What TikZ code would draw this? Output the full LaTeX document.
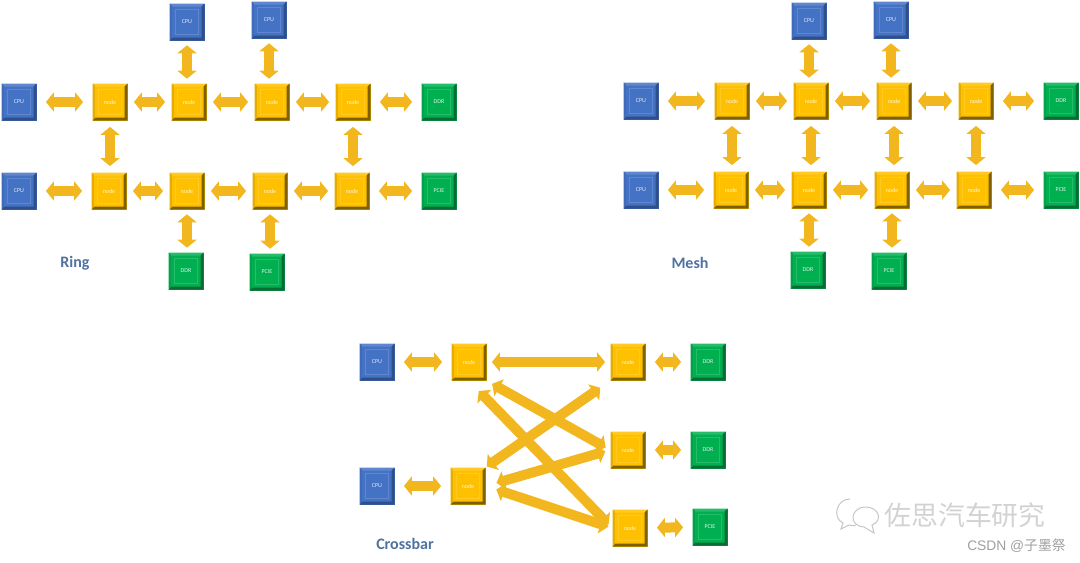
\documentclass[tikz,border=0pt]{standalone}
\usepackage{fontspec}
\setmainfont{Carlito}
\newfontfamily\cjkfont{Noto Sans CJK SC}
\newfontfamily\arialfont{Liberation Sans}
\usetikzlibrary{arrows.meta, calc}

\definecolor{cpublue}{HTML}{4472C4}
\definecolor{cpudark}{HTML}{2F4F88}
\definecolor{nodegold}{HTML}{FFC000}
\definecolor{nodedark}{HTML}{7F6000}
\definecolor{iogreen}{HTML}{00B050}
\definecolor{iodark}{HTML}{0B6B34}
\definecolor{linkgold}{HTML}{F2B71F}
\definecolor{titleblue}{HTML}{4F729F}

\tikzset{
    bevelbox/.style n args={2}{minimum width=17.5pt, minimum height=18.5pt, inner sep=0pt, fill=#1,
        font=\fontsize{3}{3}\selectfont, text=white!85!#1,
        path picture={
            \coordinate (ne) at (path picture bounding box.north east);
            \coordinate (sw) at (path picture bounding box.south west);
            \coordinate (nw) at (path picture bounding box.north west);
            \coordinate (se) at (path picture bounding box.south east);
            \fill[#1!85!white] (nw) -- (ne) -- ++(-1.5pt,-1.5pt) -- ($(nw)+(1.5pt,-1.5pt)$) -- cycle;
            \fill[#1!80!#2] (sw) -- (nw) -- ++(1.2pt,-1.2pt) -- ($(sw)+(1.2pt,1.2pt)$) -- cycle;
            \fill[#2] (sw) -- (se) -- (ne) -- ++(-1.5pt,-1.5pt) -- ($(se)+(-1.5pt,1.5pt)$) -- ($(sw)+(1.5pt,1.5pt)$) -- cycle;
            \draw[#1!85!white, line width=0.25pt] ($(sw)+(3pt,3pt)$) rectangle ($(ne)-(3pt,3pt)$);
        }},
    cpubox/.style={bevelbox={cpublue}{cpudark}},
    nodebox/.style={bevelbox={nodegold}{nodedark}},
    iobox/.style={bevelbox={iogreen}{iodark}},
    link/.style={draw=linkgold, line width=5pt, {Triangle[length=4pt, width=9.5pt]}-{Triangle[length=4pt, width=9.5pt]},
        shorten <=#1, shorten >=#1},
    link/.default=3pt,
    title/.style={font=\fontsize{8}{8}\selectfont\bfseries, text=titleblue}
}

\begin{document}
\begin{tikzpicture}[x=0.5pt, y=-0.5pt]
    \useasboundingbox (0,0) rectangle (1080,562);

    % Ring
    \foreach \n/\x/\y/\t in {rc1/19/102/CPU, rc2/19/191/CPU, rc3/187/22/CPU, rc4/269/20/CPU} {
        \node[cpubox] (\n) at (\x,\y) {\t};
    }
    \foreach \n/\x/\y in {ra1/110/102, ra2/189/102, ra3/272/102, ra4/353/102, rb1/109/191, rb2/187/191, rb3/270/191, rb4/352/191} {
        \node[nodebox] (\n) at (\x,\y) {node};
    }
    \foreach \n/\x/\y/\t in {rd1/439/102/DDR, rd2/439/191/PCIE, rd3/186/271/DDR, rd4/267/272/PCIE} {
        \node[iobox] (\n) at (\x,\y) {\t};
    }
    \foreach \a/\b in {rc1/ra1, rc2/rb1, ra4/rd1, rb4/rd2} {
        \draw[link=4.5pt] (\a) -- (\b);
    }
    \foreach \a/\b in {ra1/ra2, ra2/ra3, ra3/ra4, rb1/rb2, rb2/rb3, rb3/rb4} {
        \draw[link] (\a) -- (\b);
    }
    \foreach \a/\b in {ra1/rb1, ra4/rb4} {
        \draw[link] (\a.south) -- (\a.south |- \b.north);
    }
    \foreach \a/\b in {rc3/ra2, rc4/ra3, rb2/rd3, rb3/rd4} {
        \draw[link=2.2pt] (\a.south) -- (\a.south |- \b.north);
    }
    \node[title] (ringtitle) at (75,263) {Ring};

    % Mesh
    \foreach \n/\x/\y/\t in {mc1/641/101/CPU, mc2/641/190/CPU, mc3/809/21/CPU, mc4/891/20/CPU} {
        \node[cpubox] (\n) at (\x,\y) {\t};
    }
    \foreach \n/\x/\y in {ma1/732/101, ma2/811/101, ma3/894/101, ma4/976/101, mb1/731/190, mb2/809/190, mb3/892/190, mb4/974/190} {
        \node[nodebox] (\n) at (\x,\y) {node};
    }
    \foreach \n/\x/\y/\t in {md1/1061/101/DDR, md2/1061/190/PCIE, md3/808/270/DDR, md4/889/271/PCIE} {
        \node[iobox] (\n) at (\x,\y) {\t};
    }
    \foreach \a/\b in {mc1/ma1, mc2/mb1, ma4/md1, mb4/md2} {
        \draw[link=4.5pt] (\a) -- (\b);
    }
    \foreach \a/\b in {ma1/ma2, ma2/ma3, ma3/ma4, mb1/mb2, mb2/mb3, mb3/mb4} {
        \draw[link] (\a) -- (\b);
    }
    \foreach \a/\b in {ma1/mb1, ma2/mb2, ma3/mb3, ma4/mb4} {
        \draw[link] (\a.south) -- (\a.south |- \b.north);
    }
    \foreach \a/\b in {mc3/ma2, mc4/ma3, mb2/md3, mb3/md4} {
        \draw[link=2.2pt] (\a.south) -- (\a.south |- \b.north);
    }
    \node[title] (meshtitle) at (690,263) {Mesh};

    % Crossbar
    \node[cpubox] (xc1) at (377,362) {CPU};
    \node[cpubox] (xc2) at (377,486) {CPU};
    \node[nodebox] (xa1) at (469,362) {node};
    \node[nodebox] (xa2) at (468,486) {node};
    \node[nodebox] (xb1) at (628,362) {node};
    \node[nodebox] (xb2) at (628,450) {node};
    \node[nodebox] (xb3) at (630,528) {node};
    \node[iobox] (xd1) at (708,362) {DDR};
    \node[iobox] (xd2) at (708,450) {DDR};
    \node[iobox] (xd3) at (710,527) {PCIE};
    \foreach \a/\b in {xc1/xa1, xc2/xa2, xb1/xd1, xb2/xd2, xb3/xd3} {
        \draw[link=4.5pt] (\a) -- (\b);
    }
    \draw[link=2.5pt] (xa1) -- (xb1);
    \draw[link, shorten <=0.5pt, shorten >=6pt] (xa2.north east) -- (xb1.south west);
    \draw[link, shorten <=3pt, shorten >=2.5pt] (xa1.south east) -- (xb2.west);
    \draw[link, shorten <=7pt, shorten >=2.5pt] (xa1.south) -- (xb3.west);
    \draw[link, shorten <=5.5pt, shorten >=2.5pt] (xa2.east) -- (xb2.west);
    \draw[link, shorten <=5.5pt, shorten >=2pt] (xa2.east) -- (xb3.west);
    \node[title] (crosstitle) at (405,544) {Crossbar};

    % Watermark
    \draw[gray!45, line width=0.5pt] (850,499) .. controls (836,499) and (832,518) .. (843,523) -- (841,529) -- (849,525) .. controls (852,526) and (854,526) .. (856,525);
    \draw[gray!45, line width=0.5pt] (866,507) .. controls (850,507) and (848,526) .. (864,527) -- (874,533) -- (872,525) .. controls (884,520) and (878,507) .. (866,507);
    \node[font=\cjkfont\fontsize{13.4}{13.4}\selectfont, text=gray!35, inner sep=0pt] (wechat) at (965,515) {佐思汽车研究};
    \node[font=\arialfont\fontsize{6.9}{6.9}\selectfont, text=gray!75, inner sep=0pt, anchor=east] (csdn) at (1066,546) {CSDN @{\cjkfont 子墨祭}};
\end{tikzpicture}
\end{document}
